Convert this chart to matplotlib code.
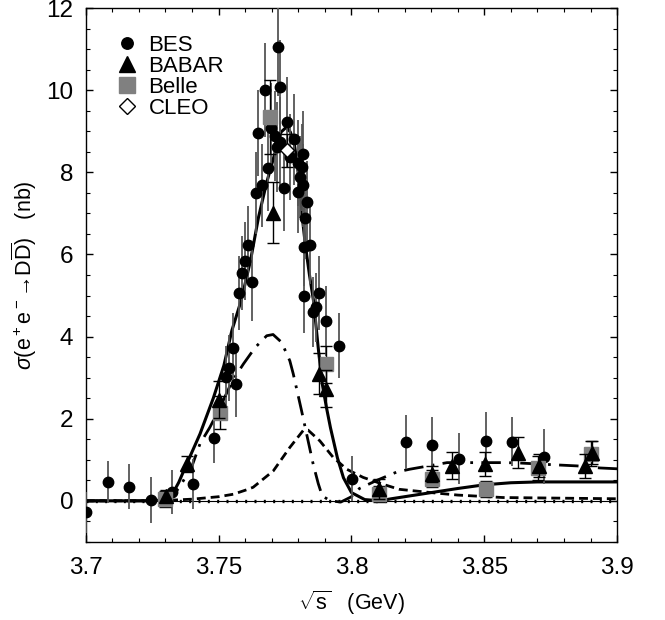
import numpy as np
import matplotlib
matplotlib.use("Agg")
import matplotlib.pyplot as plt
from matplotlib.ticker import MultipleLocator

plt.rcParams['font.family'] = ['Liberation Sans', 'DejaVu Sans']
plt.rcParams['mathtext.fontset'] = 'custom'
plt.rcParams['mathtext.rm'] = 'Liberation Sans'
plt.rcParams['mathtext.it'] = 'Liberation Sans:italic'
plt.rcParams['mathtext.sf'] = 'Liberation Sans'

# BES data points
bes_x = [3.7000, 3.7083, 3.7163, 3.7245, 3.7324, 3.7403, 3.7482, 3.7527, 3.7539, 3.7554,
         3.7565, 3.7576, 3.7588, 3.7600, 3.7610, 3.7625, 3.7640, 3.7648, 3.7663, 3.7674,
         3.7686, 3.7697, 3.7712, 3.7719, 3.7723, 3.7731, 3.7731, 3.7746, 3.7757, 3.7768,
         3.7783, 3.7798, 3.7798, 3.7806, 3.7814, 3.7817, 3.7817, 3.7821, 3.7821, 3.7825,
         3.7832, 3.7844, 3.7855, 3.7866, 3.7878, 3.7904, 3.7953, 3.8002, 3.8205, 3.8303,
         3.8405, 3.8507, 3.8605, 3.8725]
bes_y = [-0.28, 0.46, 0.34, 0.02, 0.22, 0.41, 1.54, 3.02, 3.24, 3.73,
         2.85, 5.05, 5.54, 5.85, 6.22, 5.32, 7.49, 8.95, 7.68, 10.0,
         8.10, 9.07, 8.88, 8.61, 11.05, 10.07, 8.73, 7.61, 9.22, 8.37,
         8.80, 8.22, 7.51, 7.88, 8.12, 8.44, 7.68, 6.17, 4.98, 6.88,
         7.27, 6.24, 4.59, 4.71, 5.05, 4.37, 3.78, 0.54, 1.44, 1.37,
         1.03, 1.46, 1.44, 1.07]
bes_err = [0.5, 0.52, 0.55, 0.55, 0.53, 0.6, 0.62, 0.75, 0.8, 0.85,
           0.8, 0.9, 0.9, 0.95, 0.95, 0.95, 1.0, 1.05, 1.0, 1.15,
           1.05, 1.1, 1.1, 1.1, 1.2, 1.15, 1.1, 1.05, 1.1, 1.05,
           1.1, 1.05, 1.0, 1.0, 1.05, 1.05, 1.0, 0.95, 0.9, 1.0,
           1.0, 0.95, 0.85, 0.85, 0.9, 0.85, 0.8, 0.55, 0.66, 0.68,
           0.62, 0.7, 0.6, 0.67]

# BABAR
babar_x = [3.7301, 3.7380, 3.7500, 3.7704, 3.7878, 3.7904, 3.8103, 3.8303, 3.8378,
           3.8503, 3.8627, 3.8706, 3.8880, 3.8906]
babar_y = [0.12, 0.90, 2.46, 7.02, 3.10, 2.73, 0.29, 0.66, 0.85,
           0.90, 1.17, 0.85, 0.85, 1.17]
babar_err = [0.15, 0.2, 0.45, 0.75, 0.5, 0.45, 0.25, 0.2, 0.33,
             0.3, 0.38, 0.28, 0.3, 0.28]

# Belle
belle_x = [3.7300, 3.7505, 3.7693, 3.7904, 3.8103, 3.8303, 3.8507, 3.8702, 3.8900]
belle_y = [0.05, 2.15, 9.34, 3.32, 0.17, 0.54, 0.29, 0.80, 1.15]
belle_err = [0.2, 0.4, 0.9, 0.45, 0.2, 0.2, 0.2, 0.3, 0.3]

# CLEO
cleo_x = [3.7757]
cleo_y = [8.54]
cleo_err = [0.4]

# model curves
tot_x = [3.700, 3.725, 3.730, 3.7325, 3.735, 3.738, 3.743, 3.748, 3.752, 3.755,
         3.7585, 3.762, 3.765, 3.768, 3.7715, 3.7735, 3.7755, 3.777, 3.7785, 3.7797,
         3.7808, 3.7815, 3.7827, 3.7842, 3.7857, 3.7876, 3.789, 3.7906, 3.7921, 3.7947,
         3.797, 3.800, 3.805, 3.8107, 3.815, 3.820, 3.830, 3.840, 3.850, 3.860,
         3.870, 3.880, 3.900]
tot_y = [0.0, 0.0, 0.03, 0.15, 0.45, 0.9, 1.63, 2.5, 3.3, 4.15,
         4.88, 5.85, 6.9, 7.73, 8.54, 8.98, 9.1, 8.98, 8.7, 8.12,
         7.49, 6.9, 6.2, 5.5, 4.88, 3.66, 2.85, 2.27, 1.78, 1.05,
         0.56, 0.2, 0.03, 0.0, 0.05, 0.1, 0.2, 0.3, 0.39, 0.44,
         0.46, 0.46, 0.46]

dd_x = [3.700, 3.730, 3.735, 3.740, 3.743, 3.7467, 3.750, 3.755, 3.7593, 3.7637,
        3.7681, 3.7705, 3.7737, 3.7768, 3.7781, 3.7812, 3.7856, 3.7875, 3.789, 3.792,
        3.796, 3.800, 3.803, 3.8096, 3.817, 3.822, 3.829, 3.836, 3.843, 3.858,
        3.8635, 3.8755, 3.885, 3.8936, 3.900]
dd_y = [0.0, 0.0, 0.3, 0.85, 1.39, 1.79, 2.2, 2.9, 3.33, 3.73,
        4.02, 4.05, 3.86, 3.41, 3.09, 2.2, 0.89, 0.42, 0.12, 0.0,
        -0.03, 0.1, 0.3, 0.5, 0.7, 0.77, 0.85, 0.93, 0.93, 0.93,
        0.92, 0.88, 0.85, 0.8, 0.78]

dash_x = [3.700, 3.720, 3.730, 3.740, 3.750, 3.7555, 3.7606, 3.763, 3.7706, 3.7768,
          3.7818, 3.7837, 3.7881, 3.7931, 3.7982, 3.8044, 3.812, 3.818, 3.830, 3.840,
          3.857, 3.900]
dash_y = [0.0, 0.0, 0.01, 0.04, 0.1, 0.16, 0.27, 0.33, 0.73, 1.3,
          1.71, 1.72, 1.46, 1.06, 0.77, 0.57, 0.4, 0.28, 0.2, 0.14,
          0.08, 0.05]

dot_x = [3.700, 3.900]
dot_y = [0.0, 0.0]

fig = plt.figure(figsize=(6.65, 6.2), dpi=100)
ax = fig.add_axes([0.129, 0.126, 0.799, 0.861])

ax.axhline(0, color='black', lw=0.8, zorder=1)
ax.plot(dot_x, dot_y, color='black', lw=2.4, linestyle=(0, (0.6, 2.2)), zorder=2)
ax.plot(tot_x, tot_y, color='black', lw=2.2, zorder=3)
ax.plot(dd_x, dd_y, color='black', lw=2.0, dashes=(7, 3, 1, 3), zorder=3)
ax.plot(dash_x, dash_y, color='black', lw=2.0, dashes=(3.2, 1.8), zorder=3)

ax.errorbar(bes_x, bes_y, yerr=bes_err, fmt='o', color='black', ms=7.5,
            ecolor='#555555', elinewidth=1.3, capsize=0, zorder=4, label='BES')
ax.errorbar(babar_x, babar_y, yerr=babar_err, fmt='^', color='black', ms=10,
            ecolor='black', elinewidth=1.0, capsize=4, capthick=1.0, zorder=5, label='BABAR')
ax.errorbar(belle_x, belle_y, yerr=belle_err, fmt='s', color='#808080', ms=10,
            mec='#808080', ecolor='black', elinewidth=1.0, capsize=4, capthick=1.0,
            zorder=4.5, label='Belle')
ax.errorbar(cleo_x, cleo_y, yerr=cleo_err, fmt='D', mfc='white', mec='black', ms=7,
            mew=1.0, ecolor='black', elinewidth=1.0, capsize=4, zorder=5, label='CLEO')

ax.set_xlim(3.7, 3.9)
ax.set_ylim(-1, 12)
ax.xaxis.set_major_locator(MultipleLocator(0.05))
ax.xaxis.set_minor_locator(MultipleLocator(0.01))
ax.yaxis.set_major_locator(MultipleLocator(2))
ax.yaxis.set_minor_locator(MultipleLocator(0.5))
ax.set_xticks([3.7, 3.75, 3.8, 3.85, 3.9])
ax.set_xticklabels(['3.7', '3.75', '3.8', '3.85', '3.9'])
ax.tick_params(which='both', direction='in', top=True, right=True, labelsize=17.5)
ax.tick_params(which='major', length=5, width=1)
ax.tick_params(which='minor', length=3, width=0.8)
ax.tick_params(axis='x', pad=11)
ax.tick_params(axis='y', pad=9)
for s in ax.spines.values():
    s.set_linewidth(1.0)

ax.set_xlabel(r'$\sqrt{\rm s}$   (GeV)', fontsize=15.5, labelpad=7)
ax.set_ylabel(r'$\sigma$(e$^+$e$^-$→D$\overline{\rm D}$)   (nb)', fontsize=15.5, labelpad=5)

handles, labels = ax.get_legend_handles_labels()
handles = [h[0] for h in handles]
ax.legend(handles, labels, loc='upper left', bbox_to_anchor=(0.03, 0.975), frameon=False,
          fontsize=16, handletextpad=0.4, labelspacing=0.0, handlelength=1.1,
          borderaxespad=0.2, markerscale=1.1)

fig.savefig('out.png', dpi=100)
